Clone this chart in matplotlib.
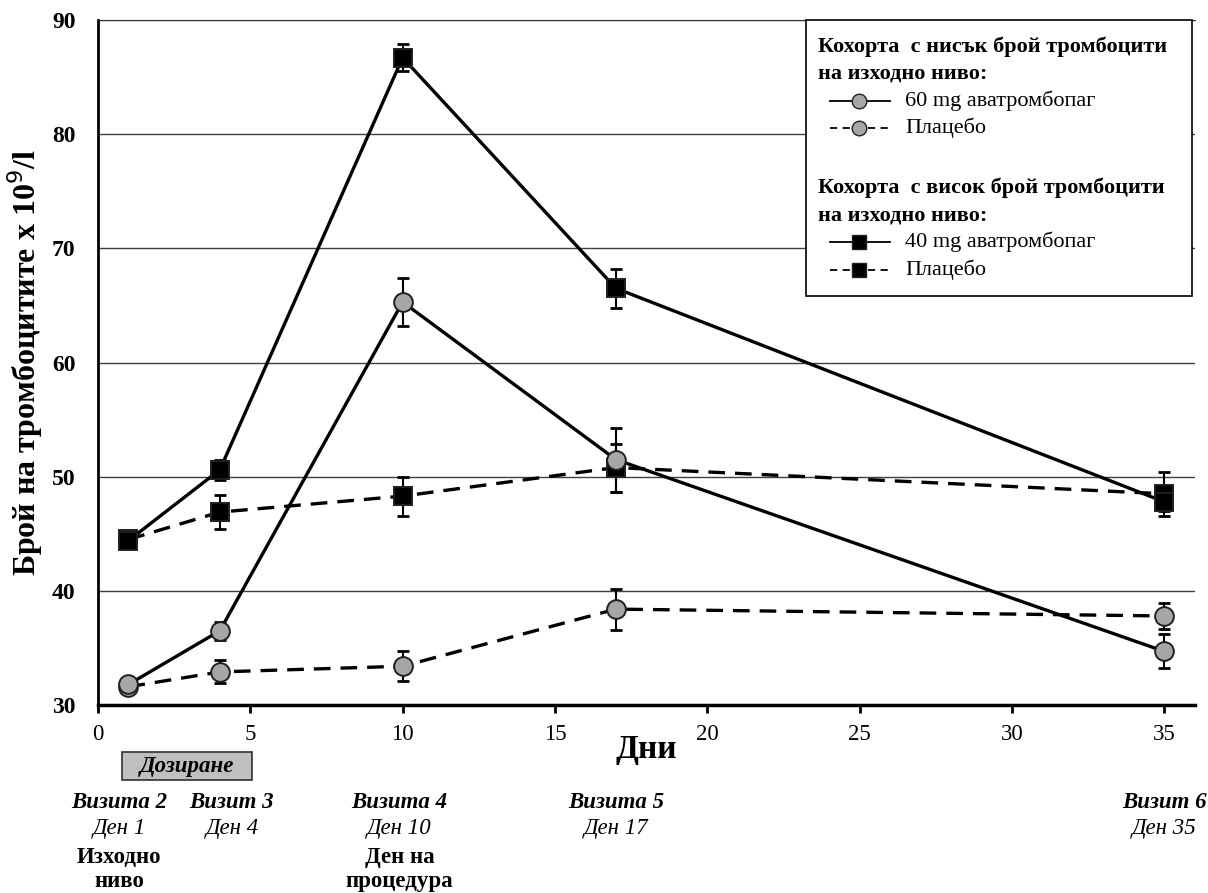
import matplotlib.pyplot as plt
from matplotlib.lines import Line2D
from matplotlib.patches import Rectangle

plt.rcParams['font.family'] = ['Liberation Serif', 'DejaVu Serif']

# Days of the visits
days = [1, 4, 10, 17, 35]

# Low baseline platelet cohort (circles)
low_avatro = [31.8, 36.5, 65.3, 51.5, 34.7]
low_avatro_err = [0.4, 0.8, 2.1, 2.8, 1.5]
low_placebo = [31.6, 32.9, 33.4, 38.4, 37.8]
low_placebo_err = [0.3, 1.0, 1.3, 1.8, 1.1]

# High baseline platelet cohort (squares)
high_avatro = [44.4, 50.6, 86.7, 66.5, 47.8]
high_avatro_err = [0.4, 0.9, 1.2, 1.7, 0.8]
high_placebo = [44.5, 46.9, 48.3, 50.8, 48.5]
high_placebo_err = [0.4, 1.5, 1.7, 2.1, 1.9]

visit_names = ['Визита 2', 'Визит 3', 'Визита 4', 'Визита 5', 'Визит 6']
visit_days = ['Ден 1', 'Ден 4', 'Ден 10', 'Ден 17', 'Ден 35']
visit_notes = ['Изходно\nниво', '', 'Ден на\nпроцедура', '', '']
visit_x = [0.7, 4.4, 9.9, 17, 35]

gray = '#a6a6a6'

fig = plt.figure(figsize=(12.08, 8.93), dpi=100)
ax = fig.add_axes([0.0811, 0.2105, 0.9079, 0.7671])

series = [
    (low_placebo, low_placebo_err, 'o', gray, (0, (5, 3))),
    (high_placebo, high_placebo_err, 's', 'black', (0, (5, 3))),
    (low_avatro, low_avatro_err, 'o', gray, '-'),
    (high_avatro, high_avatro_err, 's', 'black', '-'),
]
for vals, err, mk, fc, ls in series:
    ax.errorbar(days, vals, yerr=err, fmt='none', ecolor='black',
                elinewidth=1.5, capsize=4, capthick=2, zorder=3)
    ax.plot(days, vals, color='black', linestyle=ls, linewidth=2.4,
            marker=mk, markersize=13.5,
            markerfacecolor=fc, markeredgecolor='#202020',
            markeredgewidth=1.4, zorder=4)

ax.set_xlim(0, 36)
ax.set_ylim(30, 90)
ax.set_xticks(range(0, 40, 5))
ax.set_yticks(range(30, 100, 10))
ax.yaxis.grid(True, color='#404040', linewidth=1)
ax.set_axisbelow(True)
ax.spines['right'].set_visible(False)
ax.spines['top'].set_color('#303030')
ax.spines['left'].set_linewidth(2)
ax.spines['bottom'].set_linewidth(2.5)
ax.tick_params(axis='y', length=0, pad=16, labelsize=17)
ax.tick_params(axis='x', length=6, width=2, direction='out', pad=8, labelsize=16.5)
for lbl in ax.get_yticklabels():
    lbl.set_fontweight('bold')

ax.set_ylabel('Брой на тромбоцитите x 10$^{9}$/l', fontsize=23, fontweight='bold', labelpad=5)
ax.text(18, -0.043, 'Дни', transform=ax.get_xaxis_transform(), ha='center', va='top',
        fontsize=24, fontweight='bold')

xt = ax.get_xaxis_transform()

# Dosing box
ax.add_patch(Rectangle((0.8, -0.110), 4.25, 0.041, transform=xt,
                       facecolor='#bfbfbf', edgecolor='#303030', linewidth=1.2, clip_on=False))
ax.text(2.92, -0.090, 'Дозиране', transform=xt, ha='center', va='center',
        fontsize=16.5, fontweight='bold', style='italic')

for x, name, d, note in zip(visit_x, visit_names, visit_days, visit_notes):
    ax.text(x, -0.143, name, transform=xt, ha='center', va='center',
            fontsize=16.5, fontweight='bold', style='italic')
    ax.text(x, -0.180, d, transform=xt, ha='center', va='center',
            fontsize=16.5, style='italic')
    if note:
        ax.text(x, -0.207, note, transform=xt, ha='center', va='top',
                fontsize=16.5, fontweight='bold', linespacing=1.2)

# Legend box drawn by hand


def fx(px):
    return px / 1208


def fy(py):
    return 1 - py / 893


fig.patches.append(Rectangle((fx(806), fy(296)), 386 / 1208, 276 / 893,
                             transform=fig.transFigure, facecolor='white',
                             edgecolor='black', linewidth=1.2, zorder=10))

headings = [(47, 'Кохорта  с нисък брой тромбоцити'), (74, 'на изходно ниво:'),
            (188, 'Кохорта  с висок брой тромбоцити'), (215, 'на изходно ниво:')]
for py, txt in headings:
    fig.text(fx(818), fy(py), txt, fontsize=16, fontweight='bold', va='center', zorder=11)

legend_rows = [
    (101, '-', 'o', gray, '60 mg аватромбопаг'),
    (128, (0, (4, 3)), 'o', gray, 'Плацебо'),
    (242, '-', 's', 'black', '40 mg аватромбопаг'),
    (270, (0, (4, 3)), 's', 'black', 'Плацебо'),
]
for py, ls, mk, fc, label in legend_rows:
    fig.add_artist(Line2D([fx(830), fx(890)], [fy(py), fy(py)], transform=fig.transFigure,
                          color='black', linestyle=ls, linewidth=1.3, zorder=11))
    fig.add_artist(Line2D([fx(859)], [fy(py)], transform=fig.transFigure, marker=mk,
                          markersize=10.5, markerfacecolor=fc, markeredgecolor='#202020',
                          markeredgewidth=1, zorder=12))
    fig.text(fx(905), fy(py), label, fontsize=16, va='center', zorder=11)

fig.savefig('out.png', dpi=100)
